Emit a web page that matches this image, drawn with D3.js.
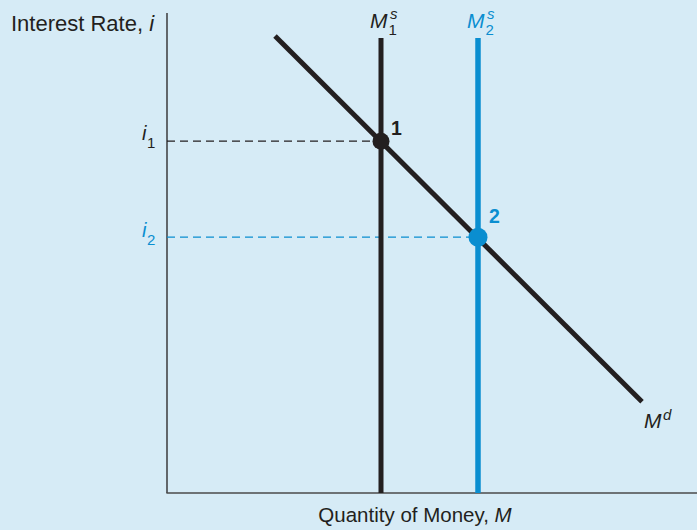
<!DOCTYPE html>
<html><head><meta charset="utf-8">
<script src="https://cdn.jsdelivr.net/npm/d3@7"></script>
<style>
html,body{margin:0;padding:0;background:#d6ebf6;}
svg{display:block;}
text{font-family:"Liberation Sans",Arial,sans-serif;fill:#231f20;}
</style></head><body>
<div id="chart"></div>
<script>
// Data (abstract units, 0..10)
const supplyQty = [4.28, 6.22];
const supplyTop = [9.48, 9.48];
const demandQ = [2.16, 9.5];
const demandI = [9.52, 1.9];
const eqLabels = ["1", "2"];
const eqQ = [4.28, 6.22];
const eqI = [7.33, 5.33];
const rateLabels = ["1", "2"];
const colors = ["#231f20", "#0a8ed0"];

const W = 697, H = 530;
const svg = d3.select("#chart").append("svg").attr("width", W).attr("height", H);
svg.append("rect").attr("width", W).attr("height", H).attr("fill", "#d6ebf6");

const x = d3.scaleLinear().domain([0, 10]).range([167, 667]);
const y = d3.scaleLinear().domain([0, 10]).range([493, 13]);

// axes
svg.append("line").attr("x1", x(0)).attr("x2", x(0)).attr("y1", y(10)).attr("y2", y(0))
  .attr("stroke", "#231f20").attr("stroke-width", 1.3);
svg.append("line").attr("x1", x(0) - 0.6).attr("x2", W).attr("y1", y(0)).attr("y2", y(0))
  .attr("stroke", "#4a4a4a").attr("stroke-width", 1.6);

// dashed guides
eqI.forEach((v, k) => {
  svg.append("line").attr("x1", x(0)).attr("x2", x(eqQ[k])).attr("y1", y(v)).attr("y2", y(v))
    .attr("stroke", colors[k]).attr("stroke-width", 1.1).attr("stroke-dasharray", "8,5");
});

// supply lines
supplyQty.forEach((q, k) => {
  svg.append("line").attr("x1", x(q)).attr("x2", x(q)).attr("y1", y(supplyTop[k])).attr("y2", y(0))
    .attr("stroke", colors[k]).attr("stroke-width", k ? 5.5 : 5);
});

// demand line
svg.append("line").attr("x1", x(demandQ[0])).attr("y1", y(demandI[0]))
  .attr("x2", x(demandQ[1])).attr("y2", y(demandI[1]))
  .attr("stroke", "#231f20").attr("stroke-width", 5);

// equilibrium points
const labOff = [[10, -6], [11, -14]];
eqQ.forEach((q, k) => {
  svg.append("circle").attr("cx", x(q)).attr("cy", y(eqI[k])).attr("r", k ? 9.5 : 8.5).attr("fill", colors[k]);
  svg.append("text").attr("x", x(q) + labOff[k][0]).attr("y", y(eqI[k]) + labOff[k][1])
    .attr("font-size", 19.5).attr("font-weight", "bold").style("fill", colors[k]).text(eqLabels[k]);
});

// rate labels
eqI.forEach((v, k) => {
  svg.append("text").attr("x", 142).attr("y", y(v) - 1 + k).attr("font-size", 20)
    .attr("font-style", "italic").style("fill", colors[k]).text("i");
  svg.append("text").attr("x", 147).attr("y", y(v) + 7 + k).attr("font-size", 15)
    .style("fill", colors[k]).text(rateLabels[k]);
});

// supply labels
supplyQty.forEach((q, k) => {
  svg.append("text").attr("x", x(q) - 11).attr("y", 28).attr("font-size", 21).attr("font-style", "italic")
    .style("fill", colors[k]).text("M");
  svg.append("text").attr("x", x(q) + 9).attr("y", 19).attr("font-size", 15).attr("font-style", "italic")
    .style("fill", colors[k]).text("s");
  svg.append("text").attr("x", x(q) + 7.5).attr("y", 35).attr("font-size", 15)
    .style("fill", colors[k]).text(String(k + 1));
});

// demand label
svg.append("text").attr("x", 644).attr("y", 428).attr("font-size", 21).attr("font-style", "italic").text("M");
svg.append("text").attr("x", 663).attr("y", 420).attr("font-size", 15).attr("font-style", "italic").text("d");

// axis titles
const yt = svg.append("text").attr("x", 11).attr("y", 31).attr("font-size", 22);
yt.append("tspan").text("Interest Rate, ");
yt.append("tspan").attr("font-style", "italic").text("i");
const xt = svg.append("text").attr("x", 415).attr("y", 522).attr("font-size", 20.5).attr("text-anchor", "middle");
xt.append("tspan").text("Quantity of Money, ");
xt.append("tspan").attr("font-style", "italic").text("M");
</script>
</body></html>
